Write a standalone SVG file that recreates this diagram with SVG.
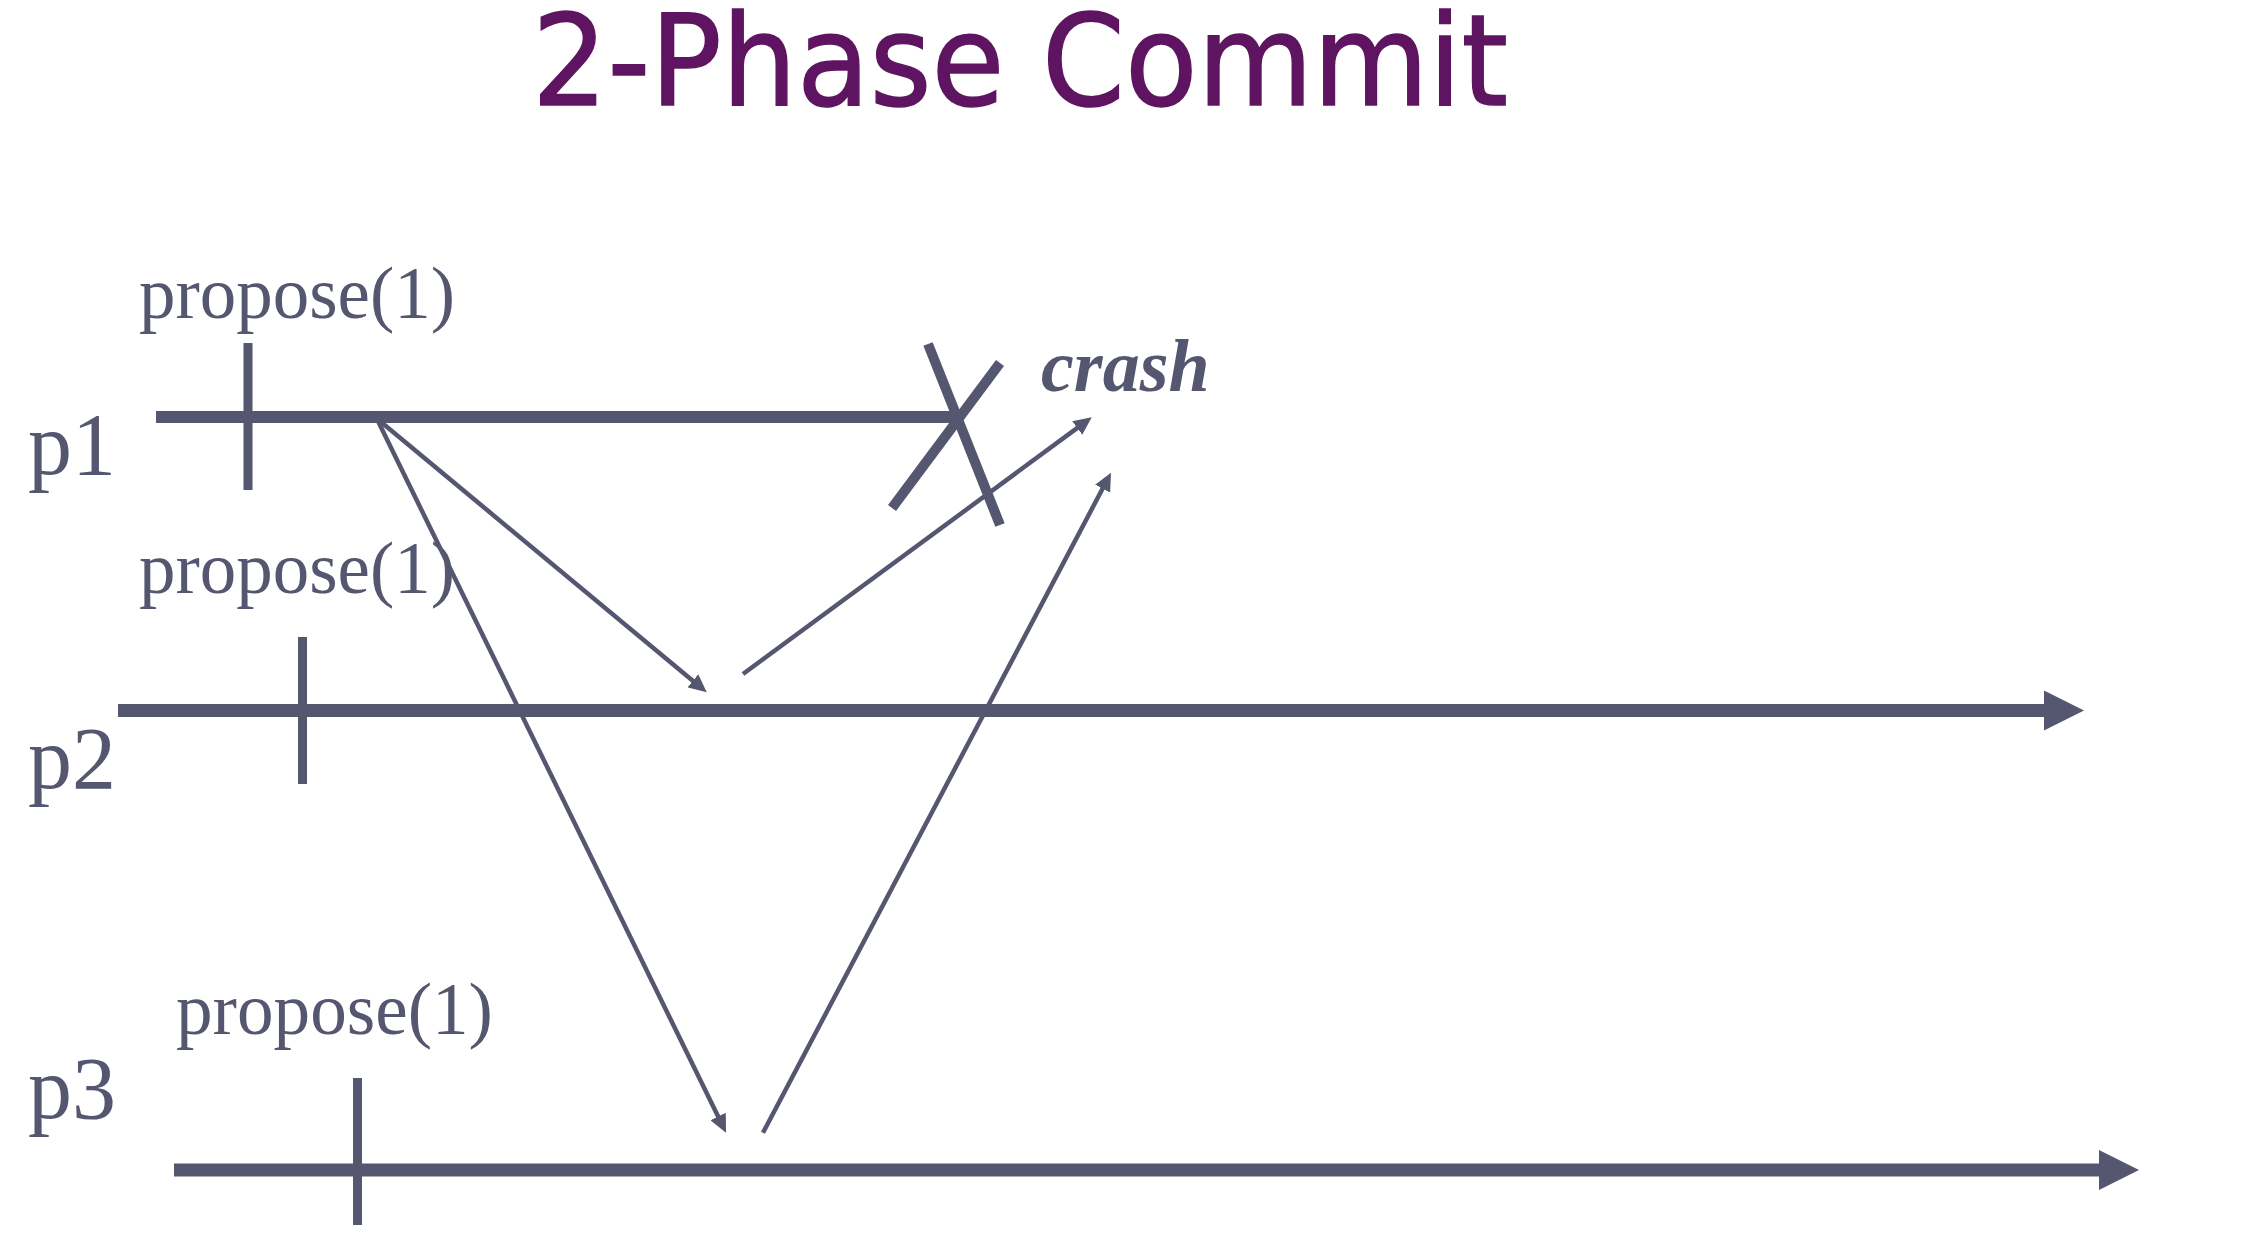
<svg xmlns="http://www.w3.org/2000/svg" width="2260" height="1242" viewBox="0 0 2260 1242">
  <style>
    .title { font-family: "DejaVu Sans", Verdana, sans-serif; font-size: 126px; fill: #5E1460; stroke: #5E1460; stroke-width: 1.5; }
    .lbl { font-family: "Liberation Serif", "Times New Roman", serif; fill: #55566F; }
    .pl { font-size: 88px; }
    .prop { font-size: 73px; }
    .crash { font-size: 74px; font-weight: bold; font-style: italic; }
    .tl { stroke: #55566F; stroke-width: 13; fill: none; }
    .tick { stroke: #55566F; stroke-width: 9; fill: none; }
    .msg { stroke: #55566F; stroke-width: 4.5; fill: none; marker-end: url(#small); }
    .x { stroke: #55566F; stroke-width: 10; fill: none; }
  </style>
  <defs>
    <marker id="big" viewBox="0 0 40 40" refX="6" refY="20" markerWidth="40" markerHeight="40" markerUnits="userSpaceOnUse" orient="auto">
      <path d="M0,0 L40,20 L0,40 z" fill="#55566F"/>
    </marker>
    <marker id="small" viewBox="0 0 18 17" refX="12" refY="8.5" markerWidth="18" markerHeight="17" markerUnits="userSpaceOnUse" orient="auto">
      <path d="M0,0 L18,8.5 L0,17 z" fill="#55566F"/>
    </marker>
  </defs>
  <rect width="2260" height="1242" fill="#FFFFFF"/>

  <text class="title" x="532" y="105" textLength="976" lengthAdjust="spacingAndGlyphs">2-Phase Commit</text>

  <g id="p1">
    <text class="lbl pl" x="28" y="474">p1</text>
    <line class="tl" x1="156" y1="417" x2="958" y2="417" style="stroke-width:12"/>
    <line class="tick" x1="248" y1="343" x2="248" y2="490"/>
    <text class="lbl prop" x="139" y="318" textLength="316" lengthAdjust="spacingAndGlyphs">propose(1)</text>
  </g>

  <g id="crash">
    <line class="x" x1="928" y1="344" x2="1000" y2="525"/>
    <line class="x" x1="1000" y1="363" x2="892" y2="508"/>
    <text class="lbl crash" x="1041" y="391">crash</text>
  </g>

  <g id="p2">
    <text class="lbl pl" x="28" y="788">p2</text>
    <line class="tl" x1="118" y1="710.5" x2="2050" y2="710.5" marker-end="url(#big)"/>
    <line class="tick" x1="302.5" y1="637" x2="302.5" y2="784"/>
    <text class="lbl prop" x="139" y="593" textLength="316" lengthAdjust="spacingAndGlyphs">propose(1)</text>
  </g>

  <g id="p3">
    <text class="lbl pl" x="28" y="1118">p3</text>
    <line class="tl" x1="174" y1="1170" x2="2105" y2="1170" marker-end="url(#big)"/>
    <line class="tick" x1="357.5" y1="1078" x2="357.5" y2="1225"/>
    <text class="lbl prop" x="176" y="1034" textLength="317" lengthAdjust="spacingAndGlyphs">propose(1)</text>
  </g>

  <g id="connectors">
    <line class="msg" x1="375" y1="417" x2="702.1" y2="688.5"/>
    <line class="msg" x1="376" y1="417" x2="723.4" y2="1127.3"/>
    <line class="msg" x1="743" y1="674" x2="1086.9" y2="420.9"/>
    <line class="msg" x1="763" y1="1132.7" x2="1108.2" y2="478"/>
  </g>
</svg>
